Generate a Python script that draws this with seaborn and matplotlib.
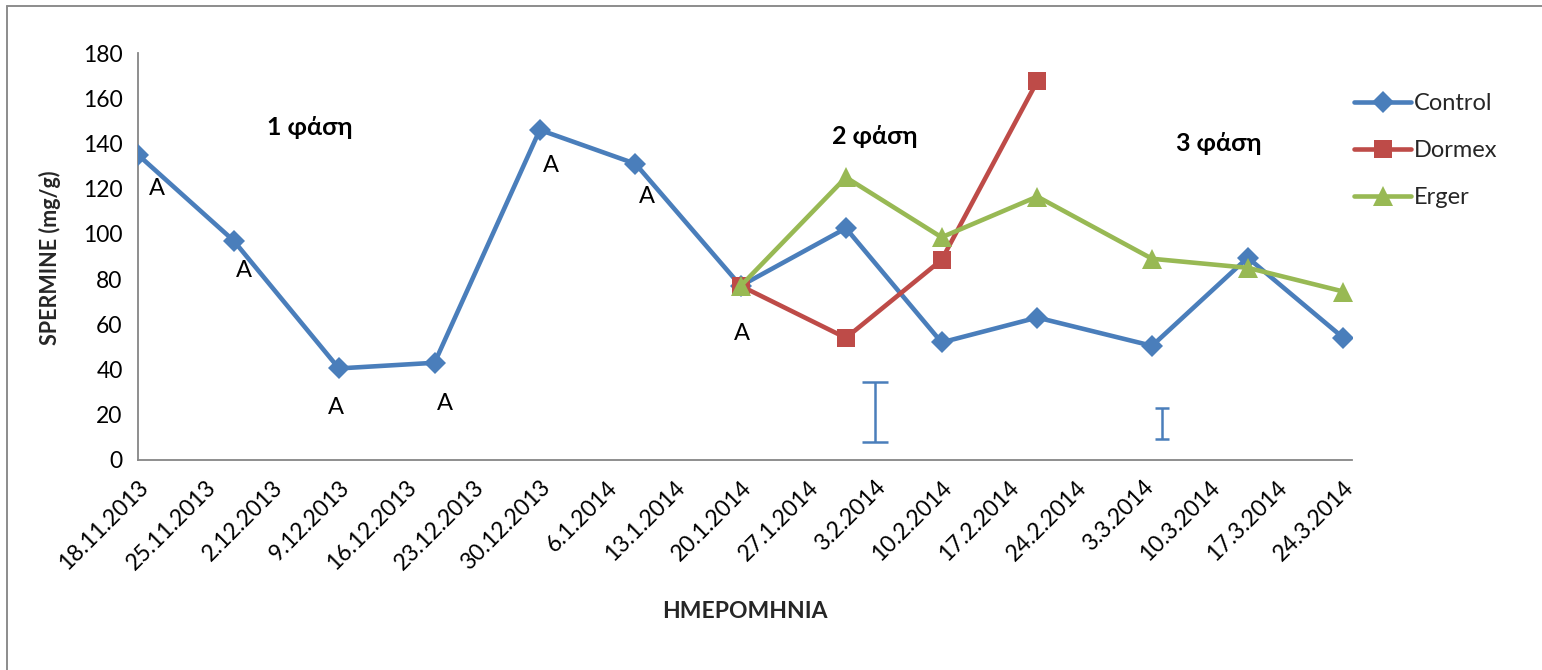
import matplotlib
matplotlib.use("Agg")
import matplotlib.pyplot as plt
from matplotlib.lines import Line2D
import numpy as np
import pandas as pd
import seaborn as sns

# Sampling dates and measured spermine content (mg/g)
control_dates = ["2013-11-18", "2013-11-28", "2013-12-09", "2013-12-19", "2013-12-30",
                 "2014-01-09", "2014-01-20", "2014-01-31", "2014-02-10", "2014-02-20",
                 "2014-03-04", "2014-03-14", "2014-03-24"]
control_vals = [135, 97, 40.5, 43, 146, 131, 77, 102.5, 52, 63, 50.5, 89.5, 54]

dormex_dates = ["2014-01-20", "2014-01-31", "2014-02-10", "2014-02-20"]
dormex_vals = [77, 54, 88.5, 167.5]

erger_dates = ["2014-01-20", "2014-01-31", "2014-02-10", "2014-02-20",
               "2014-03-04", "2014-03-14", "2014-03-24"]
erger_vals = [77, 125, 98.5, 116.5, 89, 85, 74.5]

# Significance letters for the control series (first seven sampling dates)
letters = ["A", "A", "A", "A", "A", "A", "A"]
letter_offsets = [(19, -34), (10, -30), (-3, -39), (10, -41), (11, -36), (11, -33), (1, -48)]

# Stand-alone error bars (low / high limits)
err_dates = ["2014-02-03", "2014-03-05"]
err_low = [7.8, 9.3]
err_high = [34.6, 23.1]
err_caps = [9.4, 4.7]

# Phase captions
phase_labels = ["1 φάση", "2 φάση", "3 φάση"]
phase_dates = ["2013-12-06", "2014-02-03", "2014-03-11"]
phase_y = [147, 143, 140]

tick_dates = pd.date_range("2013-11-18", "2014-03-24", freq="7D")

BLUE = "#4A7EBB"
RED = "#BE4B48"
GREEN = "#98B954"

sns.set_theme(style="white")
plt.rcParams["font.family"] = ["Lato", "Open Sans", "DejaVu Sans"]

frames = []
for name, d, v in [("Control", control_dates, control_vals),
                   ("Dormex", dormex_dates, dormex_vals),
                   ("Erger", erger_dates, erger_vals)]:
    frames.append(pd.DataFrame({"date": pd.to_datetime(d), "value": v, "series": name}))
df = pd.concat(frames, ignore_index=True)

fig = plt.figure(figsize=(15.42, 6.70), dpi=100)
ax = fig.add_axes([138 / 1542, 1 - 460 / 670, (1352 - 138) / 1542, (460 - 53) / 670])

palette = {"Control": BLUE, "Dormex": RED, "Erger": GREEN}
markers = {"Control": "D", "Dormex": "s", "Erger": "^"}
msizes = {"Control": 11, "Dormex": 12.5, "Erger": 14}
for name in ["Control", "Dormex", "Erger"]:
    sub = df[df["series"] == name]
    sns.lineplot(data=sub, x="date", y="value", ax=ax, color=palette[name],
                 linewidth=3.3, marker=markers[name], markersize=msizes[name],
                 markeredgewidth=0, label=name, legend=False, zorder=3)

# Error bars
for d, lo, hi, cap in zip(err_dates, err_low, err_high, err_caps):
    c = (lo + hi) / 2
    ax.errorbar([pd.Timestamp(d)], [c], yerr=[[c - lo], [hi - c]], fmt="none",
                ecolor=BLUE, elinewidth=1.8, capsize=cap, capthick=1.8, zorder=2)

# Letters
cd = pd.to_datetime(control_dates)
for i, (lab, off) in enumerate(zip(letters, letter_offsets)):
    ax.annotate(lab, (cd[i], control_vals[i]), xytext=off, textcoords="offset pixels",
                ha="center", va="center", fontsize=17, color="black")

# Phase captions
for lab, d, y in zip(phase_labels, phase_dates, phase_y):
    ax.text(pd.Timestamp(d), y, lab, ha="center", va="center", fontsize=18,
            fontweight="bold", color="black")

ax.set_xlim(pd.Timestamp("2013-11-18"), pd.Timestamp("2014-03-24") + pd.Timedelta(days=0.9))
ax.set_ylim(0, 180)
ax.set_yticks(np.arange(0, 181, 20))
ax.set_xticks(tick_dates)
ax.set_xticklabels([f"{t.day}.{t.month}.{t.year}" for t in tick_dates],
                   rotation=45, ha="right", rotation_mode="anchor")
ax.tick_params(axis="both", labelsize=16.5, colors="black", length=6, width=1.3,
               direction="out", pad=5)
ax.tick_params(axis="x", pad=6)
ax.tick_params(color="#868686")
ax.set_xlabel("")
ax.set_ylabel("")
for s in ["top", "right"]:
    ax.spines[s].set_visible(False)
for s in ["left", "bottom"]:
    ax.spines[s].set_color("#868686")
    ax.spines[s].set_linewidth(1.3)
ax.grid(False)

fig.text(745 / 1542, 1 - 611 / 670, "ΗΜΕΡΟΜΗΝΙΑ", ha="center", va="center",
         fontsize=16.5, fontweight="bold")
fig.text(50 / 1542, 1 - 258 / 670, "SPERMINE (mg/g)", ha="center", va="center",
         rotation=90, fontsize=15.5, fontweight="bold")

# Legend
handles = [Line2D([], [], color=palette[n], linewidth=3.3, marker=markers[n],
                  markersize=msizes[n], markeredgewidth=0) for n in ["Control", "Dormex", "Erger"]]
fig.legend(handles, ["Control", "Dormex", "Erger"], loc="upper left",
           bbox_to_anchor=(1345 / 1542, 1 - 84 / 670), frameon=False, fontsize=17,
           handlelength=2.4, handletextpad=0.1, labelspacing=1.1, borderaxespad=0)

# Chart frame (left and top edges)
fig.add_artist(Line2D([7 / 1542, 7 / 1542], [0, 1 - 6 / 670], color="#8C8C8C", linewidth=1.4))
fig.add_artist(Line2D([7 / 1542, 1], [1 - 6 / 670, 1 - 6 / 670], color="#8C8C8C", linewidth=1.4))

fig.savefig("out.png", dpi=100, facecolor="white")
